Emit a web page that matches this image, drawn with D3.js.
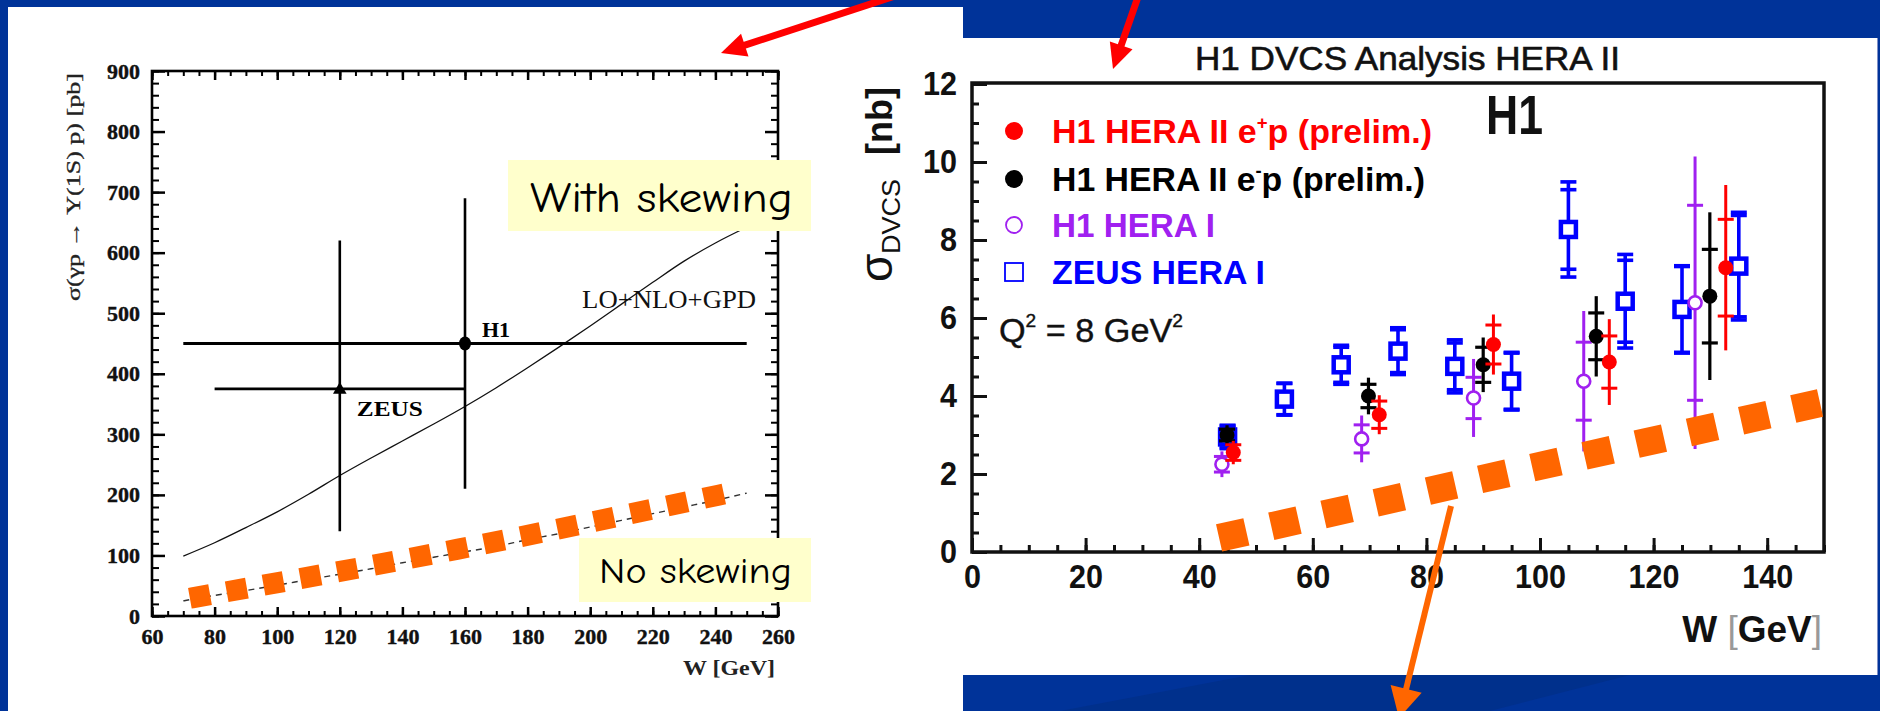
<!DOCTYPE html>
<html>
<head>
<meta charset="utf-8">
<title>Upsilon photoproduction and DVCS cross sections</title>
<script src="https://d3js.org/d3.v7.min.js"></script>
<style>
  body { margin: 0; background: #003399; overflow: hidden; }
  svg { display: block; }
</style>
</head>
<body>
<div id="slide"></div>
<script>
// ---------- left plot: sigma(gamma p -> Upsilon(1S) p) vs W ----------
const leftXTicks = [60, 80, 100, 120, 140, 160, 180, 200, 220, 240, 260];
const leftYTicks = [0, 100, 200, 300, 400, 500, 600, 700, 800, 900];
const theoryW = [70, 80, 90, 100, 110, 120, 130, 140, 150, 160, 170, 180, 190, 200, 210, 220, 230, 240, 250];
const withSkewing = [99, 121, 146, 172, 201, 232, 261, 289, 317, 346, 377, 410, 444, 479, 515, 551, 586, 616, 642];
const noSkewing = [25, 34, 42, 51, 60, 69, 78, 88, 97, 106, 115, 126, 136, 147, 158, 169, 180, 191, 203];
const upsNames = ["H1", "ZEUS"];
const upsW = [160, 120];
const upsWRange = [[70, 250], [80, 160]];
const upsSigma = [450, 375];
const upsSigmaRange = [[210, 690], [140, 620]];
// hand-drawn orange dotted line over the "no skewing" curve, in (W, sigma)
const orangeLeft = [[72.1, 29.3], [157.8, 110.4], [242.8, 201.6]];

// ---------- right plot: H1 DVCS analysis HERA II ----------
const dvcsXTicks = [0, 20, 40, 60, 80, 100, 120, 140];
const dvcsYTicks = [0, 2, 4, 6, 8, 10, 12];

const zeusW = [45, 55, 65, 75, 85, 95, 105, 115, 125, 135];
const zeusSigma = [2.95, 3.92, 4.80, 5.15, 4.76, 4.38, 8.27, 6.43, 6.22, 7.33];
const zeusStat = [0.28, 0.40, 0.45, 0.55, 0.60, 0.72, 1.02, 1.05, 1.10, 1.30];
const zeusTot = [0.30, 0.41, 0.50, 0.60, 0.68, 0.74, 1.22, 1.20, 1.12, 1.38];

const hera1W = [44.0, 68.6, 88.3, 107.7, 127.3];
const hera1Sigma = [2.25, 2.90, 3.95, 4.38, 6.39];
const hera1Stat = [0.20, 0.36, 0.53, 1.00, 2.50];
const hera1Tot = [0.33, 0.60, 1.00, 1.80, 3.75];

const elecW = [44.9, 69.8, 90.0, 109.9, 129.9];
const elecSigma = [3.00, 4.00, 4.80, 5.53, 6.56];
const elecStat = [0.15, 0.30, 0.45, 0.60, 1.20];
const elecTot = [0.25, 0.47, 0.70, 1.03, 2.15];

const posW = [46.0, 71.7, 91.8, 112.2, 132.7];
const posSigma = [2.55, 3.52, 5.32, 4.87, 7.29];
const posStat = [0.20, 0.35, 0.50, 0.67, 1.24];
const posTot = [0.30, 0.50, 0.77, 1.10, 2.12];

// orange dotted line drawn on the slide, in (W, sigma)
const orangeRight = [[43.5, 0.36], [149.3, 3.82]];

const BLUE = "#003399", ORANGE = "#ff6600", YELLOW = "#ffffcc", PURPLE = "#a020f0";
const SERIF = "'Liberation Serif', 'Times New Roman', serif";
const SANS = "'Liberation Sans', Arial, sans-serif";
const COMIC = "'Comic Sans MS', 'Comic Neue', 'DejaVu Sans', sans-serif";

const svg = d3.select("#slide").append("svg")
    .attr("width", 1880)
    .attr("height", 711);

// ---------- slide background ----------
svg.append("rect").attr("width", 1880).attr("height", 711).attr("fill", BLUE);
svg.append("polygon")
    .attr("points", "1060,711 1250,675 1630,675 1490,711")
    .attr("fill", "#00308c");
svg.append("rect").attr("x", 8).attr("y", 7).attr("width", 955).attr("height", 704).attr("fill", "#fff");
svg.append("rect").attr("x", 963).attr("y", 38).attr("width", 914).attr("height", 637).attr("fill", "#fff");
svg.append("line").attr("x1", 1877.5).attr("x2", 1877.5).attr("y1", 38).attr("y2", 675)
    .attr("stroke", "#8090c8").attr("stroke-width", 1);

// ---------- helpers ----------
function tickAxis(g, axis, tx, ty, width, color, keepText) {
    let a = g.append("g")
        .attr("transform", "translate(" + tx + "," + ty + ")")
        .call(axis);
    a.select(".domain").remove();
    if (!keepText) a.selectAll(".tick text").remove();
    a.selectAll(".tick line").attr("stroke", color || "#000").attr("stroke-width", width);
    return a;
}

function arrow(g, from, to, color, width, headLen, headW) {
    let dx = to[0] - from[0], dy = to[1] - from[1];
    let len = Math.hypot(dx, dy);
    let ux = dx / len, uy = dy / len;
    let bx = to[0] - ux * headLen, by = to[1] - uy * headLen;
    g.append("line")
        .attr("x1", from[0]).attr("y1", from[1])
        .attr("x2", bx + ux * 3).attr("y2", by + uy * 3)
        .attr("stroke", color).attr("stroke-width", width);
    g.append("path")
        .attr("d", "M" + to[0] + "," + to[1] +
            "L" + (bx - uy * headW / 2) + "," + (by + ux * headW / 2) +
            "L" + (bx + uy * headW / 2) + "," + (by - ux * headW / 2) + "Z")
        .attr("fill", color);
}

// ================= LEFT PLOT =================
const left = svg.append("g").attr("class", "left-plot");

const xL = d3.scaleLinear().domain([60, 260]).range([152, 778]);
const yL = d3.scaleLinear().domain([0, 900]).range([616, 71]);

// minor ticks on all four sides
tickAxis(left, d3.axisBottom(xL).tickValues(d3.range(60, 261, 5)).tickSize(-5), 0, yL(0), 2);
tickAxis(left, d3.axisTop(xL).tickValues(d3.range(60, 261, 5)).tickSize(-5), 0, yL(900), 2);
tickAxis(left, d3.axisLeft(yL).tickValues(d3.range(0, 901, 20)).tickSize(-7), xL(60), 0, 2);
tickAxis(left, d3.axisRight(yL).tickValues(d3.range(0, 901, 20)).tickSize(-7), xL(260), 0, 2);
// major ticks
tickAxis(left, d3.axisTop(xL).tickValues(leftXTicks).tickSize(-9), 0, yL(900), 2.5);
tickAxis(left, d3.axisRight(yL).tickValues(leftYTicks).tickSize(-13), xL(260), 0, 2.5);

let lxAxis = tickAxis(left, d3.axisBottom(xL).tickValues(leftXTicks).tickSize(-9).tickPadding(12), 0, yL(0), 2.5, "#000", true);
let lyAxis = tickAxis(left, d3.axisLeft(yL).tickValues(leftYTicks).tickSize(-13).tickPadding(12), xL(60), 0, 2.5, "#000", true);
[lxAxis, lyAxis].forEach(function(a) {
    a.selectAll("text")
        .style("font-family", SERIF)
        .style("font-weight", "bold")
        .style("font-size", "22px")
        .attr("fill", "#111")
        .attr("stroke", "#111").attr("stroke-width", 0.4);
});

left.append("rect")
    .attr("x", xL(60)).attr("y", yL(900))
    .attr("width", xL(260) - xL(60)).attr("height", yL(0) - yL(900))
    .attr("fill", "none").attr("stroke", "#000").attr("stroke-width", 2.6);

// axis titles
left.append("g")
    .attr("transform", "translate(80," + yL(520) + ") rotate(-90)")
    .append("text")
    .attr("textLength", 228).attr("lengthAdjust", "spacingAndGlyphs")
    .style("font-family", SERIF).style("font-size", "19px").attr("fill", "#222")
    .attr("stroke", "#222").attr("stroke-width", 0.3)
    .text("σ(γp → Υ(1S) p)   [pb]");

left.append("text")
    .attr("x", 775).attr("y", 675)
    .attr("text-anchor", "end")
    .attr("textLength", 92).attr("lengthAdjust", "spacingAndGlyphs")
    .style("font-family", SERIF).style("font-weight", "bold").style("font-size", "21px")
    .attr("fill", "#222")
    .text("W  [GeV]");

// theory curves
let curve = d3.line()
    .x(d => xL(d[0]))
    .y(d => yL(d[1]))
    .curve(d3.curveMonotoneX);

left.append("path")
    .datum(theoryW.map((w, i) => [w, withSkewing[i]]))
    .attr("d", curve)
    .attr("fill", "none").attr("stroke", "#111").attr("stroke-width", 1.3);

left.append("path")
    .datum(theoryW.map((w, i) => [w, noSkewing[i]]))
    .attr("d", curve)
    .attr("fill", "none").attr("stroke", "#333").attr("stroke-width", 1.4)
    .attr("stroke-dasharray", "6,5");

left.append("text")
    .attr("x", xL(253)).attr("y", yL(508))
    .attr("text-anchor", "end")
    .attr("textLength", 174).attr("lengthAdjust", "spacingAndGlyphs")
    .style("font-family", SERIF).style("font-size", "25px").attr("fill", "#111")
    .text("LO+NLO+GPD");

// data points with error bars
upsNames.forEach(function(name, i) {
    let g = left.append("g").attr("class", "ups-point");
    g.append("line")
        .attr("x1", xL(upsWRange[i][0])).attr("x2", xL(upsWRange[i][1]))
        .attr("y1", yL(upsSigma[i])).attr("y2", yL(upsSigma[i]))
        .attr("stroke", "#000").attr("stroke-width", 2.8);
    g.append("line")
        .attr("x1", xL(upsW[i])).attr("x2", xL(upsW[i]))
        .attr("y1", yL(upsSigmaRange[i][0])).attr("y2", yL(upsSigmaRange[i][1]))
        .attr("stroke", "#000").attr("stroke-width", 2.6);
    if (name == "H1") {
        g.append("ellipse")
            .attr("cx", xL(upsW[i])).attr("cy", yL(upsSigma[i]))
            .attr("rx", 6).attr("ry", 7).attr("fill", "#000");
        g.append("text")
            .attr("x", xL(upsW[i]) + 17).attr("y", yL(upsSigma[i]) - 7)
            .style("font-family", SERIF).style("font-weight", "bold").style("font-size", "22px")
            .text(name);
    } else {
        g.append("path")
            .attr("transform", "translate(" + xL(upsW[i]) + "," + (yL(upsSigma[i]) + 1) + ")")
            .attr("d", d3.symbol(d3.symbolTriangle).size(80))
            .attr("fill", "#000");
        g.append("text")
            .attr("x", xL(upsW[i]) + 17).attr("y", yL(upsSigma[i]) + 27)
            .attr("textLength", 66).attr("lengthAdjust", "spacingAndGlyphs")
            .style("font-family", SERIF).style("font-weight", "bold").style("font-size", "22px")
            .text(name);
    }
});

// orange dotted overlay
left.append("path")
    .datum(orangeLeft)
    .attr("d", curve)
    .attr("fill", "none").attr("stroke", ORANGE).attr("stroke-width", 21)
    .attr("stroke-dasharray", "20.5,16.9");

// yellow note boxes
left.append("rect").attr("x", 508).attr("y", 160).attr("width", 303).attr("height", 71).attr("fill", YELLOW);
left.append("text")
    .attr("x", 530).attr("y", 212)
    .attr("textLength", 263).attr("lengthAdjust", "spacingAndGlyphs")
    .style("font-family", COMIC).style("font-size", "42px").attr("fill", "#000")
    .text("With skewing");

left.append("rect").attr("x", 579).attr("y", 538).attr("width", 232).attr("height", 64).attr("fill", YELLOW);
left.append("text")
    .attr("x", 599).attr("y", 583)
    .attr("textLength", 193).attr("lengthAdjust", "spacingAndGlyphs")
    .style("font-family", COMIC).style("font-size", "37px").attr("fill", "#000")
    .text("No skewing");

// ================= RIGHT PLOT =================
const right = svg.append("g").attr("class", "right-plot");

const xR = d3.scaleLinear().domain([0, 150]).range([972, 1824]);
const yR = d3.scaleLinear().domain([0, 12]).range([552, 84]);

right.append("text")
    .attr("x", 1195).attr("y", 70)
    .attr("textLength", 425).attr("lengthAdjust", "spacingAndGlyphs")
    .style("font-family", SANS).style("font-size", "34px").attr("fill", "#111")
    .attr("stroke", "#111").attr("stroke-width", 0.6)
    .text("H1 DVCS Analysis HERA II");

tickAxis(right, d3.axisBottom(xR).tickValues(d3.range(0, 151, 5)).tickSize(-7), 0, yR(0), 3, "#111");
tickAxis(right, d3.axisLeft(yR).tickValues(d3.range(0, 12.01, 0.5)).tickSize(-7), xR(0), 0, 3, "#111");
let rxAxis = tickAxis(right, d3.axisBottom(xR).tickValues(dvcsXTicks).tickSize(-14).tickPadding(13), 0, yR(0), 3, "#111", true);
let ryAxis = tickAxis(right, d3.axisLeft(yR).tickValues(dvcsYTicks).tickSize(-15).tickPadding(15), xR(0), 0, 3, "#111", true);
[rxAxis, ryAxis].forEach(function(a) {
    a.selectAll("text")
        .style("font-family", SANS)
        .style("font-weight", "bold")
        .style("font-size", "33px")
        .attr("fill", "#111")
        .attr("textLength", d => String(d).length * 17)
        .attr("lengthAdjust", "spacingAndGlyphs");
});

right.append("rect")
    .attr("x", xR(0)).attr("y", yR(12) - 1)
    .attr("width", xR(150) - xR(0)).attr("height", yR(0) - yR(12) + 1)
    .attr("fill", "none").attr("stroke", "#111").attr("stroke-width", 3.5);

// y title
let ytitle = right.append("g").attr("transform", "translate(892,282) rotate(-90)");
ytitle.append("text").attr("x", 0).attr("y", 0)
    .style("font-family", SANS).style("font-size", "46px").attr("fill", "#111").text("σ");
ytitle.append("text").attr("x", 28).attr("y", 8)
    .attr("textLength", 75).attr("lengthAdjust", "spacingAndGlyphs")
    .style("font-family", SANS).style("font-size", "25px").attr("fill", "#111").text("DVCS");
ytitle.append("text").attr("x", 127).attr("y", 0)
    .attr("textLength", 68).attr("lengthAdjust", "spacingAndGlyphs")
    .style("font-family", SANS).style("font-weight", "bold").style("font-size", "36px")
    .attr("fill", "#111").text("[nb]");

// x title
let xtitle = right.append("text")
    .attr("x", 1822).attr("y", 642)
    .attr("text-anchor", "end")
    .style("font-family", SANS).style("font-size", "37px").attr("fill", "#111");
xtitle.append("tspan").style("font-weight", "bold").text("W ");
xtitle.append("tspan").attr("fill", "#999").text("[");
xtitle.append("tspan").style("font-weight", "bold").text("GeV");
xtitle.append("tspan").attr("fill", "#999").text("]");

right.append("text")
    .attr("x", xR(90.5)).attr("y", yR(10.72))
    .attr("textLength", 57).attr("lengthAdjust", "spacingAndGlyphs")
    .style("font-family", SANS).style("font-weight", "bold").style("font-size", "56px")
    .attr("fill", "#111")
    .text("H1");

function marker(g, type, cx, cy, color) {
    if (type == "dot") {
        g.append("circle").attr("cx", cx).attr("cy", cy).attr("r", 7.5).attr("fill", color);
    } else if (type == "ring") {
        g.append("circle").attr("cx", cx).attr("cy", cy).attr("r", 6.5)
            .attr("fill", "#fff").attr("stroke", color).attr("stroke-width", 2.6);
    } else {
        g.append("rect").attr("x", cx - 7.5).attr("y", cy - 7.5).attr("width", 15).attr("height", 15)
            .attr("fill", "#fff").attr("stroke", color).attr("stroke-width", 4.5);
    }
}

const dvcsSeries = [
    {name: "ZEUS HERA I", w: zeusW, s: zeusSigma, stat: zeusStat, tot: zeusTot, color: "#0000ff", type: "square", lw: 3.6, caps: true},
    {name: "H1 HERA I", w: hera1W, s: hera1Sigma, stat: hera1Stat, tot: hera1Tot, color: PURPLE, type: "ring", lw: 3, caps: false},
    {name: "H1 HERA II e-p", w: elecW, s: elecSigma, stat: elecStat, tot: elecTot, color: "#000", type: "dot", lw: 3.2, caps: false},
    {name: "H1 HERA II e+p", w: posW, s: posSigma, stat: posStat, tot: posTot, color: "#ff0000", type: "dot", lw: 3, caps: false}
];

dvcsSeries.forEach(function(ser) {
    let g = right.append("g").attr("class", "series");
    ser.w.forEach(function(w, i) {
        let cx = xR(w);
        g.append("line")
            .attr("x1", cx).attr("x2", cx)
            .attr("y1", yR(ser.s[i] - ser.tot[i])).attr("y2", yR(ser.s[i] + ser.tot[i]))
            .attr("stroke", ser.color).attr("stroke-width", ser.lw);
        let tickAt = [ser.s[i] - ser.stat[i], ser.s[i] + ser.stat[i]];
        if (ser.caps) tickAt = tickAt.concat([ser.s[i] - ser.tot[i], ser.s[i] + ser.tot[i]]);
        tickAt.forEach(function(v) {
            g.append("line")
                .attr("x1", cx - 8).attr("x2", cx + 8)
                .attr("y1", yR(v)).attr("y2", yR(v))
                .attr("stroke", ser.color).attr("stroke-width", ser.lw);
        });
        marker(g, ser.type, cx, yR(ser.s[i]), ser.color);
    });
});

// legend
let legend = right.append("g").attr("class", "legend");
const legendRows = [
    {idx: 3, cy: 131, len: 380, sup: "+"},
    {idx: 2, cy: 179, len: 373, sup: "-"},
    {idx: 1, cy: 225, len: 163},
    {idx: 0, cy: 272, len: 213}
];
legendRows.forEach(function(r) {
    let ser = dvcsSeries[r.idx];
    if (ser.type == "dot") {
        legend.append("circle").attr("cx", 1014).attr("cy", r.cy).attr("r", 9).attr("fill", ser.color);
    } else if (ser.type == "ring") {
        legend.append("circle").attr("cx", 1014).attr("cy", r.cy).attr("r", 8)
            .attr("fill", "none").attr("stroke", ser.color).attr("stroke-width", 1.8);
    } else {
        legend.append("rect").attr("x", 1005).attr("y", r.cy - 9).attr("width", 18).attr("height", 18)
            .attr("fill", "none").attr("stroke", ser.color).attr("stroke-width", 1.8);
    }
    let t = legend.append("text")
        .attr("x", 1052).attr("y", r.cy + 12)
        .attr("textLength", r.len).attr("lengthAdjust", "spacingAndGlyphs")
        .style("font-family", SANS).style("font-size", "33px")
        .style("font-weight", "bold")
        .attr("fill", ser.color);
    if (r.sup) {
        t.append("tspan").text("H1 HERA II e");
        t.append("tspan").attr("dy", -14).style("font-size", "18px").text(r.sup);
        t.append("tspan").attr("dy", 14).text("p (prelim.)");
    } else {
        t.text(ser.name);
    }
});

let q2 = legend.append("text")
    .attr("x", 999).attr("y", 342)
    .attr("textLength", 184).attr("lengthAdjust", "spacingAndGlyphs")
    .style("font-family", SANS).style("font-size", "34px").attr("fill", "#111")
    .attr("stroke", "#111").attr("stroke-width", 0.4);
q2.append("tspan").text("Q");
q2.append("tspan").attr("dy", -15).style("font-size", "19px").text("2");
q2.append("tspan").attr("dy", 15).text(" = 8 GeV");
q2.append("tspan").attr("dy", -15).style("font-size", "19px").text("2");

// orange dotted overlay
right.append("path")
    .datum(orangeRight)
    .attr("d", d3.line().x(d => xR(d[0])).y(d => yR(d[1])))
    .attr("fill", "none").attr("stroke", ORANGE).attr("stroke-width", 28)
    .attr("stroke-dasharray", "28,25.5");

// ================= slide arrows =================
const notes = svg.append("g").attr("class", "arrows");
arrow(notes, [901, -6], [721, 53], "#ff0000", 7, 25, 24);
arrow(notes, [1139, -6], [1113, 69], "#ff0000", 7, 25, 24);
arrow(notes, [1451, 506], [1399, 718], ORANGE, 6, 30, 32);
</script>
</body>
</html>
